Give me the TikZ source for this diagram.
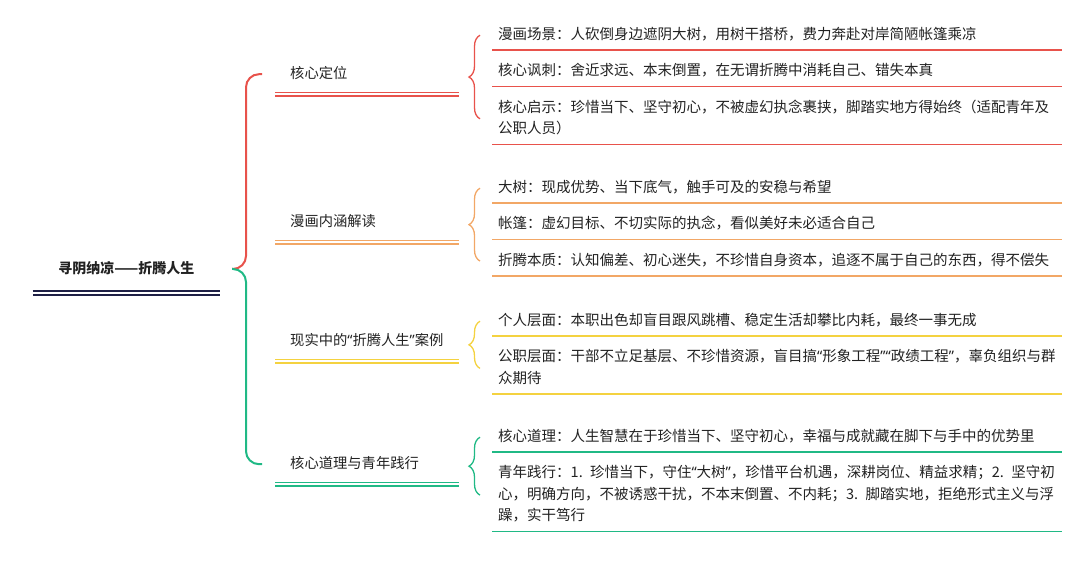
\documentclass[tikz,border=0pt]{standalone}
\usepackage{fontspec}
\newfontfamily\cjk{Noto Sans CJK SC}
\newfontfamily\qtfont{Noto Sans}
\usetikzlibrary{positioning,calc,decorations.pathreplacing}
\definecolor{brred}{HTML}{E8524B}
\definecolor{brorange}{HTML}{F2A766}
\definecolor{bryellow}{HTML}{F4D240}
\definecolor{brgreen}{HTML}{20B985}
\definecolor{rootnavy}{HTML}{1E1F45}
\definecolor{txt}{HTML}{222222}
\newcommand\zq[1]{{\qtfont “}#1{\qtfont ”}}

\begin{document}
\begin{tikzpicture}[x=1pt,y=-1pt,
	leaf/.style={anchor=west,text width=558pt,inner xsep=6pt,inner ysep=4pt,align=left,text=txt,font=\cjk\fontsize{14.5}{21.5}\selectfont},
	topic/.style={anchor=west,text width=154pt,inner xsep=15pt,inner ysep=9pt,align=left,text=txt,font=\cjk\fontsize{14.3}{21.5}\selectfont},
	rootbox/.style={anchor=east,text width=179pt,inner xsep=4pt,inner ysep=12.9pt,align=center,text=txt,font=\cjk\bfseries\fontsize{14}{21}\selectfont},
	uline/.style={line width=1.6pt},
	dline/.style={line width=1.4pt,double=white,double distance=2.4pt},
	rootline/.style={line width=2pt,double=white,double distance=2pt},
	bigbrace/.style={line width=2pt,rounded corners=13pt},
	smallbrace/.style={line width=1.3pt,decorate,decoration={brace,amplitude=11pt}}]
	\useasboundingbox (0,0) rectangle (1080,561);

	\node[leaf] (r1) at (492,35.25) {\strut 漫画场景：人砍倒身边遮阴大树，用树干搭桥，费力奔赴对岸简陋帐篷乘凉\strut};
	\node[leaf,below=6.5pt of r1] (r2) {\strut 核心讽刺：舍近求远、本末倒置，在无谓折腾中消耗自己、错失本真\strut};
	\node[leaf,below=6.5pt of r2] (r3) {\strut 核心启示：珍惜当下、坚守初心，不被虚幻执念裹挟，脚踏实地方得始终（适配青年及\\公职人员）\strut};

	\node[leaf] (o1) at (492,188.25) {\strut 大树：现成优势、当下底气，触手可及的安稳与希望\strut};
	\node[leaf,below=6.5pt of o1] (o2) {\strut 帐篷：虚幻目标、不切实际的执念，看似美好未必适合自己\strut};
	\node[leaf,below=6.5pt of o2] (o3) {\strut 折腾本质：认知偏差、初心迷失，不珍惜自身资本，追逐不属于自己的东西，得不偿失\strut};

	\node[leaf] (y1) at (492,321.25) {\strut 个人层面：本职出色却盲目跟风跳槽、稳定生活却攀比内耗，最终一事无成\strut};
	\node[leaf,below=6.5pt of y1] (y2) {\strut 公职层面：干部不立足基层、不珍惜资源，盲目搞\zq{形象工程}\zq{政绩工程}，辜负组织与群\\众期待\strut};

	\node[leaf] (g1) at (492,437.25) {\strut 核心道理：人生智慧在于珍惜当下、坚守初心，幸福与成就藏在脚下与手中的优势里\strut};
	\node[leaf,below=6.5pt of g1] (g2) {\strut 青年践行：1. 珍惜当下，守住\zq{大树}，珍惜平台机遇，深耕岗位、精益求精；2. 坚守初\\心，明确方向，不被诱惑干扰，不本末倒置、不内耗；3. 脚踏实地，拒绝形式主义与浮\\躁，实干笃行\strut};

	\node[topic] (n1) at (275,74.2) {\strut 核心定位\strut};
	\node[topic] (n2) at (275,222.2) {\strut 漫画内涵解读\strut};
	\node[topic] (n3) at (275,341.2) {\strut 现实中的\zq{折腾人生}案例\strut};
	\node[topic] (n4) at (275,464.2) {\strut 核心道理与青年践行\strut};

	\node[rootbox] (root) at (220,269) {\strut 寻阴纳凉——折腾人生\strut};

	\draw[rootline,rootnavy] (root.south west) -- (root.south east);
	\draw[bigbrace,brred] ([xshift=12pt]root.east) -- ++(14,0) |- ([xshift=-13pt]n1.west);
	\draw[bigbrace,brgreen] ([xshift=12pt]root.east) -- ++(14,0) |- ([xshift=-13pt]n4.west);

	\draw[dline,brred] (n1.south west) -- (n1.south east);
	\draw[dline,brorange] (n2.south west) -- (n2.south east);
	\draw[dline,bryellow] (n3.south west) -- (n3.south east);
	\draw[dline,brgreen] (n4.south west) -- (n4.south east);

	\draw[smallbrace,brred] ([xshift=-12pt]r3.west) -- ([xshift=-12pt]r1.west);
	\draw[smallbrace,brorange] ([xshift=-12pt]o3.west) -- ([xshift=-12pt]o1.west);
	\draw[smallbrace,bryellow] ([xshift=-12pt]y2.west) -- ([xshift=-12pt]y1.west);
	\draw[smallbrace,brgreen] ([xshift=-12pt]g2.west) -- ([xshift=-12pt]g1.west);

	\draw[uline,brred] (r1.south west) -- (r1.south east);
	\draw[uline,brred] (r2.south west) -- (r2.south east);
	\draw[uline,brred] (r3.south west) -- (r3.south east);
	\draw[uline,brorange] (o1.south west) -- (o1.south east);
	\draw[uline,brorange] (o2.south west) -- (o2.south east);
	\draw[uline,brorange] (o3.south west) -- (o3.south east);
	\draw[uline,bryellow] (y1.south west) -- (y1.south east);
	\draw[uline,bryellow] (y2.south west) -- (y2.south east);
	\draw[uline,brgreen] (g1.south west) -- (g1.south east);
	\draw[uline,brgreen] (g2.south west) -- (g2.south east);
\end{tikzpicture}
\end{document}
